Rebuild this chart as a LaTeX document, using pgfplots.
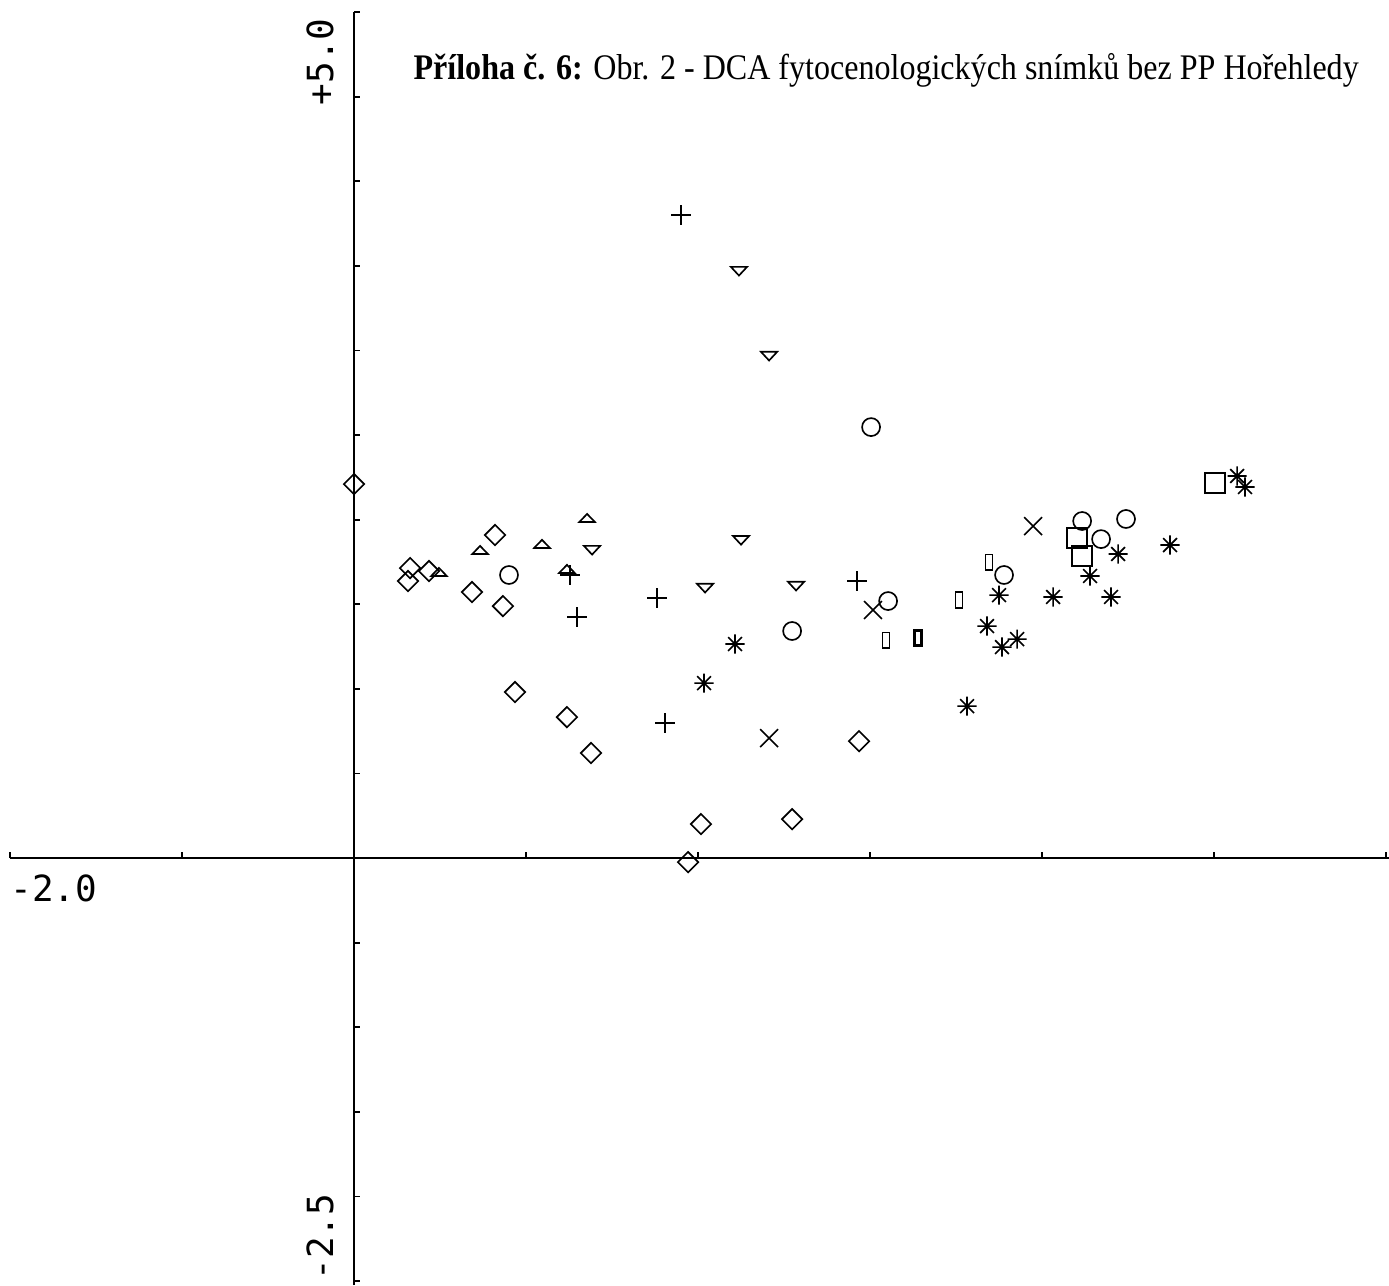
\documentclass[border=0pt]{standalone}
\usepackage{fontspec}
\setmainfont{Liberation Serif}
\newfontfamily\plotfont{DejaVu Sans Mono}
\usepackage{graphicx}
\usepackage{pgfplots}
\pgfplotsset{compat=1.18}

% plotter-style marks
\pgfdeclareplotmark{dia}{%
  \pgfpathmoveto{\pgfqpoint{0pt}{3.4pt}}\pgfpathlineto{\pgfqpoint{3.4pt}{0pt}}%
  \pgfpathlineto{\pgfqpoint{0pt}{-3.4pt}}\pgfpathlineto{\pgfqpoint{-3.4pt}{0pt}}%
  \pgfpathclose\pgfusepathqstroke}
\pgfdeclareplotmark{triup}{%
  \pgfpathmoveto{\pgfqpoint{-2.6pt}{-1.3pt}}\pgfpathlineto{\pgfqpoint{2.6pt}{-1.3pt}}%
  \pgfpathlineto{\pgfqpoint{0pt}{1.4pt}}\pgfpathclose\pgfusepathqstroke}
\pgfdeclareplotmark{tridown}{%
  \pgfpathmoveto{\pgfqpoint{-2.7pt}{1.4pt}}\pgfpathlineto{\pgfqpoint{2.7pt}{1.4pt}}%
  \pgfpathlineto{\pgfqpoint{0pt}{-1.5pt}}\pgfpathclose\pgfusepathqstroke}
\pgfdeclareplotmark{thinrect}{%
  \pgfpathrectangle{\pgfqpoint{-1.15pt}{-2.6pt}}{\pgfqpoint{2.3pt}{5.2pt}}\pgfusepathqstroke}
\pgfdeclareplotmark{star8}{%
  \pgfpathmoveto{\pgfqpoint{0pt}{-3.2pt}}\pgfpathlineto{\pgfqpoint{0pt}{3.2pt}}%
  \pgfpathmoveto{\pgfqpoint{-3.2pt}{0pt}}\pgfpathlineto{\pgfqpoint{3.2pt}{0pt}}%
  \pgfpathmoveto{\pgfqpoint{-2.3pt}{-2.3pt}}\pgfpathlineto{\pgfqpoint{2.3pt}{2.3pt}}%
  \pgfpathmoveto{\pgfqpoint{-2.3pt}{2.3pt}}\pgfpathlineto{\pgfqpoint{2.3pt}{-2.3pt}}%
  \pgfusepathqstroke}

\begin{document}
\begin{tikzpicture}
\begin{axis}[x=57.33pt,y=56.4pt,scale only axis,
  xmin=-2.058,xmax=6.017,ymin=-2.524,ymax=5.071,
  hide axis,clip=false,
  every axis plot/.append style={only marks,black,line width=0.55pt,mark options={solid}}]

% axes crossing at the origin
\draw[line width=0.8pt] (axis cs:-2,0) -- (axis cs:6.017,0);
\draw[line width=0.8pt] (axis cs:0,-2.524) -- (axis cs:0,5);
\pgfplotsinvokeforeach{-2,-1,1,2,3,4,5,6}{\draw[line width=0.6pt] (axis cs:#1,0) -- ++(0pt,2pt);}
\pgfplotsinvokeforeach{-2.5,-2,-1.5,-1,-0.5,0.5,1,1.5,2,2.5,3,3.5,4,4.5,5}{\draw[line width=0.6pt] (axis cs:0,#1) -- ++(2pt,0pt);}

\node[anchor=north west,inner sep=0pt,font=\plotfont\fontsize{12}{14}\selectfont] at ([yshift=-5.5pt]axis cs:-2,0) {-2.0};
\node[rotate=90,anchor=base east,inner sep=0pt,font=\plotfont\fontsize{12}{14}\selectfont] at ([xshift=-7pt,yshift=-2pt]axis cs:0,5) {+5.0};
\node[rotate=90,anchor=base west,inner sep=0pt,font=\plotfont\fontsize{12}{14}\selectfont] at ([xshift=-7pt]axis cs:0,-2.5) {-2.5};
\node[anchor=base west,inner sep=0pt,font=\fontsize{12}{15}\selectfont] at (axis cs:0.343,4.60)
  {\scalebox{0.89}[1]{\textbf{Příloha č. 6:} Obr. 2 - DCA fytocenologických snímků bez PP Hořehledy}};

\addplot[mark=dia] coordinates {(0.000,2.210) (0.326,1.714) (0.314,1.637) (0.436,1.696) (0.820,1.909) (0.686,1.572) (0.866,1.489) (0.936,0.981) (1.238,0.833) (1.378,0.621) (2.017,0.201) (2.547,0.230) (1.942,-0.024) (2.936,0.691)};
\addplot[mark=triup] coordinates {(0.494,1.690) (0.733,1.820) (1.093,1.856) (1.355,2.009) (1.238,1.708)};
\addplot[mark=tridown] coordinates {(1.384,1.820) (2.238,3.469) (2.413,2.967) (2.041,1.596) (2.570,1.608) (2.250,1.879)};
\addplot[mark=+,mark size=3.3pt] coordinates {(1.256,1.673) (1.297,1.424) (1.762,1.537) (1.808,0.798) (1.901,3.800) (2.924,1.637)};
\addplot[mark=x,mark size=4.2pt] coordinates {(3.017,1.466) (2.413,0.709) (3.948,1.962)};
\addplot[mark=o,mark size=3pt] coordinates {(0.901,1.673) (3.006,2.547) (2.547,1.342) (3.105,1.519) (3.779,1.673) (4.233,1.992) (4.488,2.004) (4.343,1.885)};
\addplot[mark=square,mark size=3.3pt] coordinates {(5.006,2.216) (4.203,1.891) (4.233,1.785)};
\addplot[mark=thinrect] coordinates {(3.093,1.288) (3.517,1.525) (3.692,1.749)};
\addplot[mark=thinrect,line width=1pt] coordinates {(3.279,1.300)};
\addplot[mark=star8] coordinates {(2.215,1.265) (2.035,1.034) (3.564,0.898) (5.134,2.258) (5.180,2.193) (4.442,1.797) (4.744,1.850) (4.279,1.667) (3.750,1.554) (4.064,1.543) (4.401,1.543) (3.680,1.371) (3.767,1.247) (3.855,1.294)};

\coordinate (bl) at (axis cs:-2.058,-2.524);
\coordinate (tr) at (axis cs:6.017,5.071);
\end{axis}
\pgfresetboundingbox
\path[use as bounding box] (bl) rectangle (tr);
\end{tikzpicture}
\end{document}
